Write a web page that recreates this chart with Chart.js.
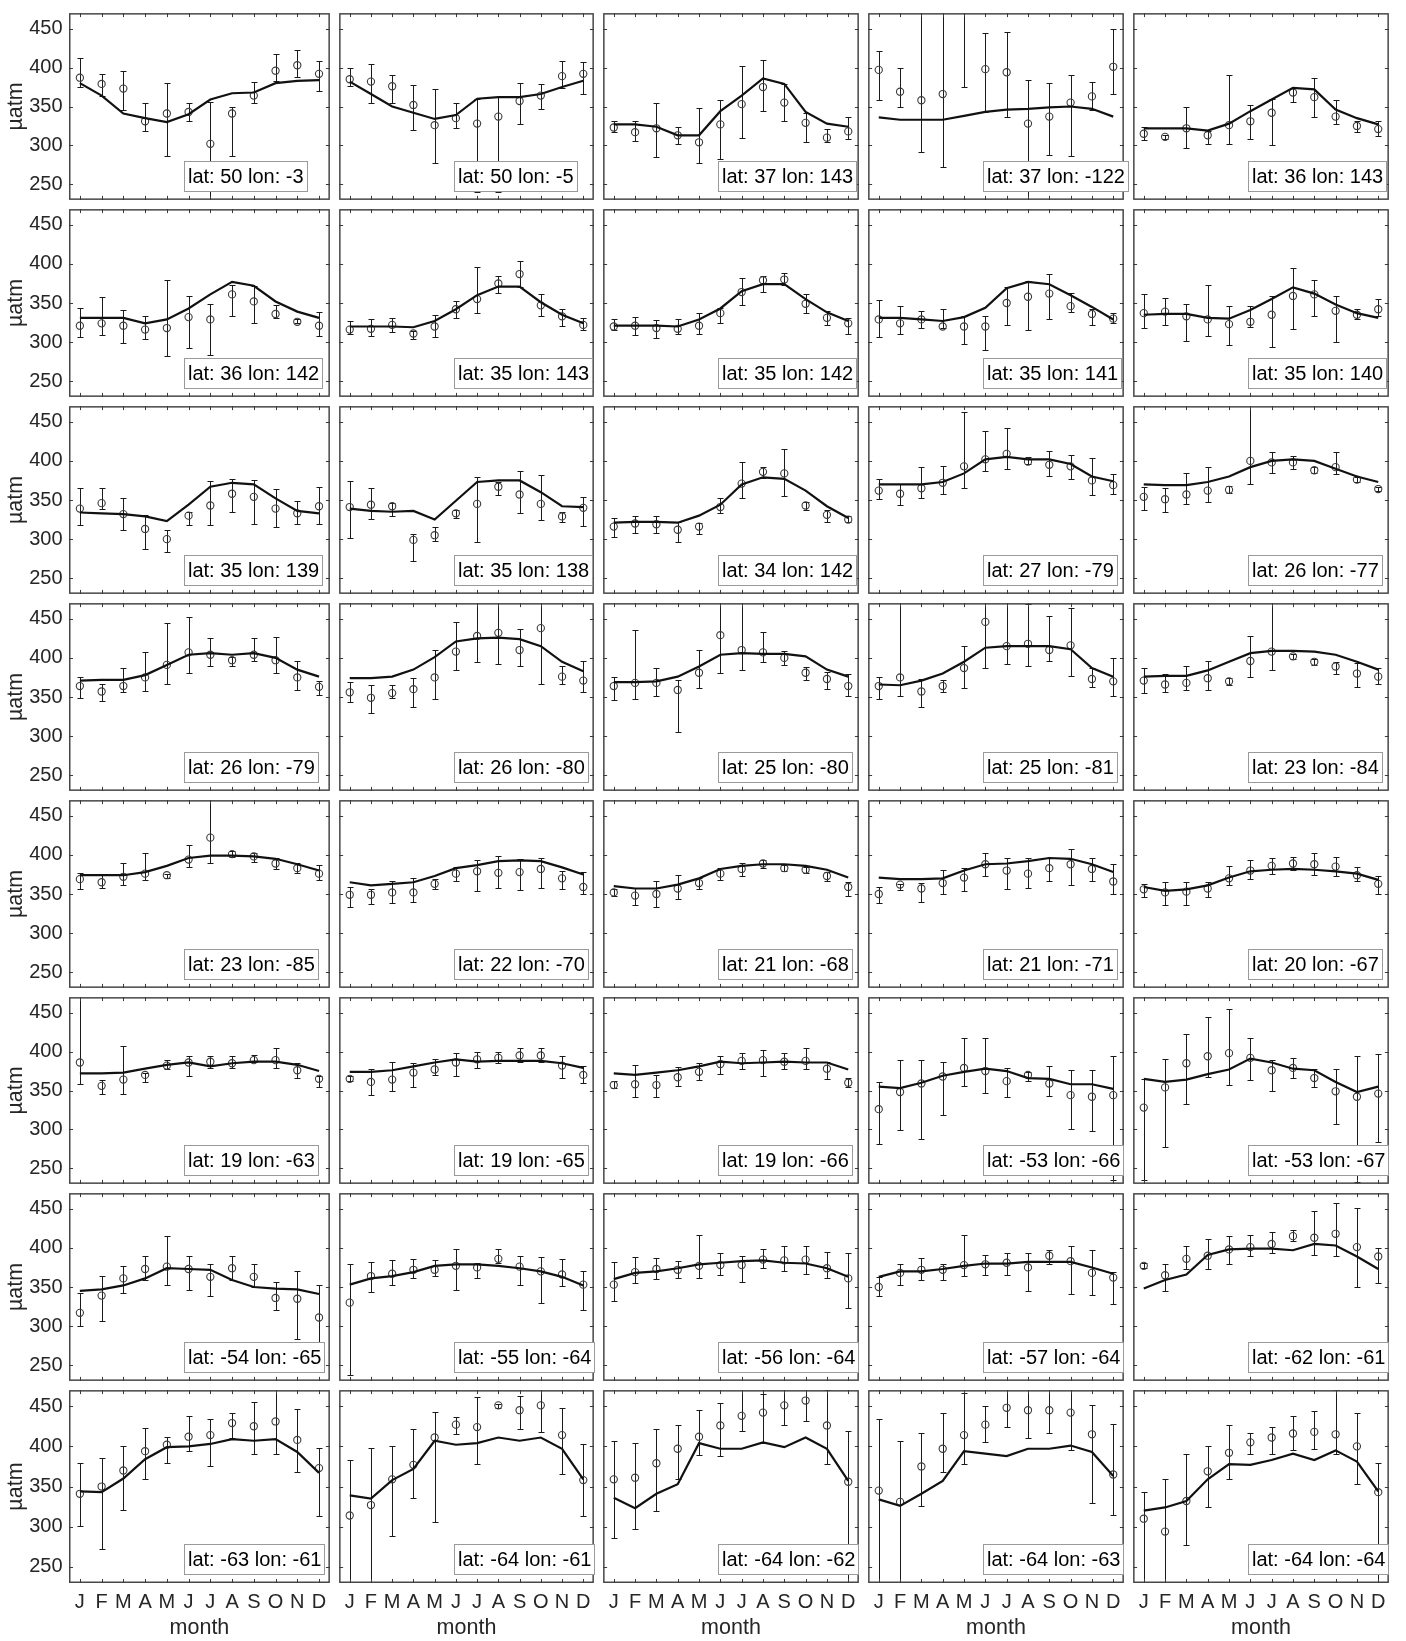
<!DOCTYPE html>
<html>
<head>
<meta charset="utf-8">
<script src="https://cdn.jsdelivr.net/npm/chart.js@4.4.1/dist/chart.umd.min.js"></script>
<style>
  html, body { margin: 0; padding: 0; background: #fff; }
  #wrap { position: relative; width: 1406px; height: 1641px; overflow: hidden; background: #fff; }
  #wrap canvas { position: absolute; }
</style>
</head>
<body>
<div id="wrap"></div>
<script>
// month ticks and y ticks shared by every panel
const months = ["J", "F", "M", "A", "M", "J", "J", "A", "S", "O", "N", "D"];
const yTicks = [250, 300, 350, 400, 450];

// station of each panel, row by row
const lats = [50, 50, 37, 37, 36,  36, 35, 35, 35, 35,  35, 35, 34, 27, 26,  26, 26, 25, 25, 23,
              23, 22, 21, 21, 20,  19, 19, 19, -53, -53,  -54, -55, -56, -57, -62,  -63, -64, -64, -64, -64];
const lons = [-3, -5, 143, -122, 143,  142, 143, 142, 141, 140,  139, 138, 142, -79, -77,  -79, -80, -80, -81, -84,
              -85, -70, -68, -71, -67,  -63, -65, -66, -66, -67,  -65, -64, -64, -64, -61,  -61, -61, -62, -63, -64];

// model pCO2 (line), J..D
const model = [
  [380, 364, 341, 335, 330, 340, 359, 367, 368, 380, 383, 384],
  [382, 366, 350, 342, 334, 339, 360, 362, 362, 366, 375, 383],
  [327, 327, 324, 313, 313, 344, 364, 386, 379, 343, 328, 324],
  [336, 333, 333, 333, 338, 343, 346, 347, 349, 350, 347, 337],
  [322, 322, 322, 319, 328, 344, 359, 374, 372, 346, 335, 327],
  [331, 331, 331, 324, 329, 343, 361, 377, 372, 352, 339, 331],
  [320, 320, 320, 319, 327, 342, 360, 371, 371, 351, 335, 324],
  [321, 321, 321, 320, 329, 343, 365, 374, 374, 355, 338, 327],
  [331, 331, 329, 327, 332, 344, 369, 377, 374, 360, 345, 329],
  [335, 336, 336, 331, 330, 341, 355, 370, 362, 348, 337, 331],
  [334, 333, 332, 329, 323, 344, 367, 372, 370, 352, 336, 333],
  [339, 336, 335, 336, 325, 349, 373, 375, 375, 360, 342, 341],
  [321, 322, 322, 321, 330, 344, 370, 379, 377, 362, 342, 327],
  [370, 370, 370, 373, 384, 402, 405, 402, 402, 396, 380, 374],
  [370, 369, 369, 373, 380, 392, 400, 402, 400, 390, 380, 373],
  [371, 372, 372, 378, 391, 404, 406, 404, 406, 400, 385, 376],
  [374, 374, 376, 385, 401, 421, 425, 426, 424, 415, 395, 383],
  [369, 369, 370, 376, 389, 404, 406, 405, 405, 402, 385, 376],
  [366, 365, 371, 380, 395, 413, 415, 415, 415, 411, 387, 376],
  [376, 377, 377, 384, 395, 406, 409, 409, 408, 404, 395, 385],
  [374, 374, 374, 378, 386, 396, 399, 399, 398, 395, 388, 380],
  [365, 361, 363, 365, 373, 383, 387, 392, 393, 392, 384, 375],
  [360, 357, 357, 362, 370, 382, 386, 388, 388, 386, 381, 371],
  [371, 369, 369, 370, 380, 388, 389, 392, 396, 395, 388, 378],
  [359, 354, 356, 361, 371, 379, 381, 382, 381, 379, 376, 368],
  [372, 372, 373, 378, 383, 386, 381, 385, 387, 387, 383, 375],
  [374, 374, 376, 381, 386, 390, 387, 388, 388, 388, 385, 379],
  [372, 370, 373, 376, 381, 387, 385, 386, 387, 386, 386, 377],
  [355, 353, 360, 369, 374, 378, 375, 366, 365, 358, 358, 352],
  [365, 361, 364, 371, 377, 391, 386, 378, 376, 361, 348, 355],
  [345, 347, 352, 361, 374, 373, 372, 359, 350, 348, 347, 341],
  [353, 361, 364, 369, 377, 379, 379, 377, 374, 370, 363, 352],
  [360, 368, 370, 374, 379, 381, 383, 384, 381, 380, 374, 363],
  [363, 370, 370, 373, 377, 380, 380, 382, 382, 382, 375, 367],
  [348, 359, 366, 391, 398, 399, 399, 397, 405, 403, 389, 373],
  [344, 343, 360, 384, 399, 400, 403, 409, 407, 409, 393, 367],
  [339, 335, 358, 372, 407, 402, 404, 411, 407, 411, 397, 359],
  [336, 323, 341, 353, 404, 397, 397, 405, 399, 411, 397, 357],
  [334, 326, 341, 357, 394, 391, 388, 397, 397, 401, 393, 363],
  [320, 324, 332, 359, 378, 377, 383, 391, 383, 395, 381, 344]
];

// observed monthly values (circles)
const obs = [
  [387, 379, 373, 331, 341, 343, 302, 341, 364, 396, 403, 392],
  [385, 382, 376, 352, 326, 335, 328, 337, 357, 364, 389, 392],
  [323, 317, 322, 313, 304, 327, 353, 375, 355, 329, 310, 318],
  [397, 369, 358, 366, 480, 398, 394, 328, 337, 355, 363, 401],
  [315, 311, 322, 313, 326, 331, 342, 368, 362, 337, 325, 321],
  [321, 324, 321, 316, 318, 332, 329, 361, 352, 336, 326, 321],
  [316, 317, 322, 311, 320, 342, 355, 375, 387, 347, 333, 322],
  [320, 321, 318, 317, 321, 337, 364, 379, 380, 349, 331, 324],
  [329, 324, 329, 320, 320, 320, 350, 358, 362, 346, 336, 330],
  [337, 339, 333, 329, 323, 326, 335, 359, 361, 340, 335, 342],
  [339, 346, 332, 313, 300, 330, 343, 358, 354, 339, 333, 342],
  [341, 344, 342, 299, 305, 333, 345, 367, 357, 345, 329, 340],
  [316, 320, 319, 312, 316, 341, 371, 386, 384, 343, 331, 325],
  [362, 358, 365, 372, 393, 402, 409, 399, 395, 393, 375, 369],
  [354, 351, 357, 362, 363, 400, 398, 398, 388, 392, 376, 364],
  [364, 357, 364, 375, 391, 407, 404, 397, 404, 397, 375, 363],
  [356, 349, 355, 360, 375, 408, 428, 432, 410, 438, 376, 371],
  [364, 368, 368, 359, 381, 429, 410, 407, 400, 381, 373, 364],
  [364, 375, 357, 364, 387, 446, 415, 418, 410, 416, 373, 370],
  [371, 366, 368, 374, 370, 396, 408, 402, 395, 389, 380, 376],
  [369, 365, 372, 376, 374, 394, 422, 401, 398, 389, 383, 376],
  [349, 349, 352, 352, 363, 376, 379, 377, 378, 382, 370, 359],
  [352, 348, 350, 357, 364, 376, 382, 389, 383, 381, 373, 359],
  [350, 362, 357, 364, 371, 388, 380, 376, 383, 388, 382, 366],
  [356, 352, 353, 357, 370, 380, 386, 389, 388, 385, 374, 363],
  [386, 356, 364, 370, 382, 386, 387, 385, 389, 389, 376, 365],
  [365, 361, 364, 373, 377, 386, 390, 392, 395, 395, 382, 370],
  [357, 358, 357, 367, 374, 384, 388, 389, 387, 388, 378, 360],
  [326, 348, 359, 368, 379, 375, 362, 370, 359, 344, 342, 344],
  [328, 354, 385, 394, 398, 392, 376, 379, 366, 349, 342, 346],
  [317, 339, 361, 373, 376, 373, 363, 374, 363, 336, 335, 311],
  [330, 364, 367, 372, 372, 377, 375, 386, 376, 370, 366, 353],
  [353, 369, 373, 372, 377, 378, 378, 385, 384, 385, 374, 361],
  [350, 368, 372, 372, 378, 379, 381, 375, 390, 383, 368, 362],
  [377, 365, 386, 390, 398, 401, 405, 415, 413, 418, 401, 389],
  [341, 350, 370, 394, 402, 412, 414, 429, 425, 431, 408, 373],
  [314, 327, 359, 377, 411, 427, 424, 451, 445, 451, 414, 358],
  [359, 361, 379, 397, 412, 426, 438, 442, 451, 457, 426, 356],
  [345, 331, 375, 397, 414, 427, 448, 445, 445, 442, 415, 365],
  [310, 294, 332, 369, 392, 405, 411, 416, 418, 415, 400, 343]
];

// lower end of each error bar
const errLo = [
  [375, 364, 345, 318, 287, 331, 225, 286, 354, 383, 388, 370],
  [376, 355, 355, 320, 277, 322, 240, 240, 328, 347, 374, 366],
  [317, 306, 285, 302, 278, 282, 310, 344, 332, 304, 304, 308],
  [358, 350, 292, 272, 375, 343, 336, 225, 288, 286, 345, 366],
  [307, 308, 297, 302, 302, 308, 301, 356, 337, 327, 317, 312],
  [306, 309, 299, 304, 282, 292, 284, 334, 324, 331, 324, 308],
  [311, 308, 313, 304, 307, 331, 337, 363, 371, 333, 321, 315],
  [315, 309, 305, 311, 311, 325, 347, 364, 373, 337, 322, 310],
  [307, 310, 318, 318, 298, 290, 322, 315, 329, 338, 322, 325],
  [318, 322, 302, 308, 296, 319, 294, 317, 333, 300, 329, 333],
  [318, 339, 312, 287, 283, 318, 318, 335, 319, 315, 319, 319],
  [301, 326, 329, 272, 298, 327, 296, 357, 333, 325, 322, 317],
  [303, 308, 308, 296, 306, 333, 353, 378, 355, 337, 322, 322],
  [351, 344, 352, 358, 365, 387, 390, 396, 381, 377, 357, 358],
  [337, 335, 345, 347, 359, 371, 384, 390, 384, 383, 373, 361],
  [349, 345, 356, 358, 366, 381, 389, 389, 396, 381, 359, 352],
  [344, 329, 349, 337, 348, 385, 395, 392, 389, 367, 366, 356],
  [346, 348, 351, 305, 361, 381, 385, 395, 391, 372, 360, 351],
  [348, 351, 337, 357, 362, 387, 392, 389, 396, 377, 363, 351],
  [355, 356, 359, 359, 365, 376, 385, 399, 391, 380, 363, 366],
  [356, 358, 361, 368, 371, 384, 390, 397, 391, 382, 377, 368],
  [334, 337, 339, 340, 357, 367, 354, 358, 355, 358, 356, 350],
  [348, 336, 333, 344, 357, 368, 373, 383, 379, 377, 366, 348],
  [339, 355, 340, 350, 354, 373, 356, 358, 367, 361, 367, 350],
  [346, 336, 336, 346, 361, 369, 376, 381, 374, 373, 367, 350],
  [358, 345, 345, 361, 377, 368, 379, 379, 386, 379, 366, 355],
  [362, 344, 349, 354, 370, 369, 379, 385, 387, 386, 366, 360],
  [353, 342, 342, 356, 363, 371, 377, 368, 377, 377, 365, 354],
  [281, 299, 288, 319, 356, 347, 342, 362, 343, 300, 298, 235],
  [235, 278, 333, 367, 357, 364, 350, 366, 354, 307, 233, 284],
  [300, 307, 342, 359, 353, 346, 338, 359, 350, 320, 283, 271],
  [237, 344, 353, 361, 364, 346, 362, 381, 352, 330, 351, 320],
  [332, 355, 360, 361, 361, 365, 357, 374, 371, 367, 362, 323],
  [339, 353, 359, 359, 364, 365, 365, 345, 380, 341, 340, 328],
  [374, 345, 373, 373, 380, 389, 394, 409, 391, 390, 350, 355],
  [301, 272, 321, 360, 379, 394, 376, 410, 391, 390, 368, 313],
  [225, 225, 289, 336, 306, 416, 378, 448, 422, 418, 365, 313],
  [286, 297, 319, 360, 389, 388, 419, 404, 427, 431, 378, 225],
  [225, 225, 326, 368, 378, 405, 424, 411, 417, 396, 330, 315],
  [225, 225, 277, 325, 360, 391, 390, 396, 397, 391, 353, 225]
];

// upper end of each error bar
const errHi = [
  [412, 392, 396, 355, 380, 355, 356, 349, 381, 418, 422, 408],
  [400, 405, 391, 377, 372, 355, 360, 362, 380, 379, 408, 407],
  [331, 331, 354, 324, 348, 358, 402, 410, 379, 342, 321, 337],
  [421, 399, 480, 480, 480, 445, 446, 384, 380, 390, 382, 450],
  [324, 313, 350, 319, 391, 352, 360, 374, 386, 358, 331, 332],
  [343, 358, 341, 333, 379, 359, 349, 373, 372, 348, 329, 339],
  [327, 330, 331, 314, 335, 352, 396, 385, 404, 361, 342, 331],
  [329, 332, 328, 329, 337, 344, 382, 384, 388, 362, 340, 331],
  [354, 346, 340, 342, 334, 334, 370, 378, 387, 363, 342, 337],
  [362, 356, 349, 373, 346, 346, 359, 395, 380, 359, 342, 355],
  [365, 365, 352, 331, 312, 335, 374, 377, 375, 364, 349, 367],
  [374, 365, 346, 306, 316, 337, 380, 373, 387, 382, 335, 354],
  [327, 330, 329, 322, 321, 352, 398, 392, 415, 348, 337, 329],
  [377, 371, 392, 394, 462, 438, 442, 405, 413, 408, 404, 383],
  [366, 365, 384, 392, 368, 480, 411, 406, 392, 411, 380, 367],
  [375, 367, 387, 407, 445, 452, 426, 401, 426, 427, 396, 370],
  [369, 365, 365, 374, 410, 446, 480, 480, 437, 480, 389, 396],
  [376, 436, 387, 372, 410, 480, 480, 433, 409, 388, 382, 379],
  [376, 480, 373, 372, 415, 480, 480, 469, 453, 464, 387, 400],
  [387, 380, 389, 396, 374, 428, 480, 405, 398, 395, 393, 387],
  [377, 374, 390, 402, 376, 413, 480, 405, 403, 396, 389, 387],
  [359, 356, 366, 370, 369, 384, 394, 398, 395, 396, 379, 378],
  [356, 358, 367, 374, 370, 383, 389, 393, 387, 384, 378, 365],
  [359, 363, 364, 381, 383, 402, 396, 396, 396, 407, 396, 388],
  [363, 365, 365, 365, 386, 394, 396, 397, 402, 397, 384, 373],
  [480, 364, 407, 373, 389, 394, 394, 394, 396, 404, 385, 368],
  [369, 377, 386, 385, 390, 398, 400, 399, 404, 404, 394, 381],
  [362, 383, 370, 380, 385, 394, 398, 402, 398, 404, 387, 366],
  [361, 389, 389, 386, 417, 417, 379, 374, 381, 376, 376, 394],
  [365, 391, 423, 445, 455, 417, 389, 392, 377, 377, 394, 397],
  [342, 364, 377, 389, 415, 389, 379, 389, 379, 357, 370, 352],
  [379, 382, 384, 386, 384, 399, 381, 399, 390, 388, 386, 371],
  [382, 388, 387, 383, 416, 393, 390, 398, 402, 402, 395, 394],
  [363, 380, 387, 380, 416, 391, 393, 394, 397, 402, 397, 369],
  [381, 380, 402, 411, 415, 416, 420, 423, 447, 457, 451, 400],
  [379, 385, 400, 423, 412, 438, 434, 441, 455, 480, 446, 398],
  [383, 398, 400, 422, 443, 437, 462, 453, 463, 480, 448, 403],
  [407, 404, 421, 427, 445, 454, 480, 465, 480, 480, 470, 419],
  [434, 407, 417, 441, 467, 450, 480, 480, 480, 480, 452, 428],
  [343, 360, 390, 401, 426, 417, 424, 438, 444, 470, 442, 379]
];

const NCOL = 5, NROW = 8;
const X0 = 69, COLW = 264.7, Y0 = 7.5, ROWH = 196.8;
const PAGE_H = 1641;
const FONT = '"Liberation Sans", Arial, Helvetica, sans-serif';
const TICK_COLOR = "#262626";

const xEdge = (c) => Math.round(X0 + c * COLW);
const yEdge = (r) => Math.round(Y0 + r * ROWH);

// frame, inner tick marks, error bars and the station label
const panelDecor = {
  id: "panelDecor",
  beforeDatasetsDraw(chart) {
    const i = chart.options.plugins.panelDecor.index;
    const { ctx, chartArea: a, scales: { x, y } } = chart;
    ctx.save();
    ctx.beginPath();
    ctx.rect(a.left, a.top, a.right - a.left, a.bottom - a.top);
    ctx.clip();
    ctx.strokeStyle = "#1a1a1a";
    ctx.lineWidth = 1;
    ctx.beginPath();
    errLo[i].forEach((lo, k) => {
      const px = Math.round(x.getPixelForValue(k + 1)) + 0.5;
      const y1 = Math.round(y.getPixelForValue(lo)) + 0.5;
      const y2 = Math.round(y.getPixelForValue(errHi[i][k])) + 0.5;
      ctx.moveTo(px, y1); ctx.lineTo(px, y2);
      ctx.moveTo(px - 3, y1); ctx.lineTo(px + 3, y1);
      ctx.moveTo(px - 3, y2); ctx.lineTo(px + 3, y2);
    });
    ctx.stroke();
    ctx.restore();
  },
  afterDraw(chart) {
    const i = chart.options.plugins.panelDecor.index;
    const { ctx, chartArea: a, scales: { x, y } } = chart;
    ctx.save();
    ctx.strokeStyle = "#474747";
    ctx.lineWidth = 1.5;
    ctx.strokeRect(a.left + 0.75, a.top + 0.75, a.right - a.left - 1.5, a.bottom - a.top - 1.5);
    ctx.lineWidth = 1;
    ctx.strokeStyle = "#3a3a3a";
    ctx.beginPath();
    months.forEach((m, k) => {
      const px = Math.round(x.getPixelForValue(k + 1)) + 0.5;
      ctx.moveTo(px, a.top); ctx.lineTo(px, a.top + 4);
      ctx.moveTo(px, a.bottom); ctx.lineTo(px, a.bottom - 4);
    });
    yTicks.forEach((v) => {
      const py = Math.round(y.getPixelForValue(v)) + 0.5;
      ctx.moveTo(a.left, py); ctx.lineTo(a.left + 4, py);
      ctx.moveTo(a.right, py); ctx.lineTo(a.right - 4, py);
    });
    ctx.stroke();

    const text = "lat: " + lats[i] + " lon: " + lons[i];
    ctx.font = "20px " + FONT;
    const w = Math.round(ctx.measureText(text).width + 7);
    const bx = Math.round(a.left + 115) + 0.5;
    const by = Math.round(a.bottom - 39) + 0.5;
    ctx.fillStyle = "#fff";
    ctx.fillRect(bx, by, w, 30);
    ctx.strokeStyle = "#9a9a9a";
    ctx.strokeRect(bx, by, w, 30);
    ctx.fillStyle = "#000";
    ctx.textAlign = "left";
    ctx.textBaseline = "middle";
    ctx.fillText(text, bx + 3.5, by + 16);
    ctx.restore();
  }
};

function makePanel(r, c) {
  const i = r * NCOL + c;
  const showY = c === 0, showX = r === NROW - 1;
  const left = showY ? 0 : xEdge(c);
  const width = xEdge(c + 1) + 1 - left;
  const top = yEdge(r);
  const plotBottom = yEdge(r + 1) + 1;
  const height = (showX ? PAGE_H : plotBottom) - top;
  const xAxisH = PAGE_H - (yEdge(NROW) + 1);

  const canvas = document.createElement("canvas");
  canvas.width = width;
  canvas.height = height;
  canvas.style.left = left + "px";
  canvas.style.top = top + "px";
  canvas.style.width = width + "px";
  canvas.style.height = height + "px";
  document.getElementById("wrap").appendChild(canvas);

  return new Chart(canvas.getContext("2d"), {
    type: "line",
    data: {
      datasets: [
        {
          type: "line",
          data: model[i].map((v, k) => ({ x: k + 1, y: v })),
          borderColor: "#111",
          borderWidth: 2.2,
          pointRadius: 0,
          tension: 0,
          fill: false,
          clip: 0,
        },
        {
          type: "scatter",
          data: obs[i].map((v, k) => ({ x: k + 1, y: v })),
          pointStyle: "circle",
          pointRadius: 3.6,
          borderWidth: 1.1,
          borderColor: "#3c3c3c",
          backgroundColor: "rgba(0,0,0,0)",
          showLine: false,
          clip: 0,
        },
      ],
    },
    options: {
      responsive: false,
      maintainAspectRatio: false,
      animation: false,
      devicePixelRatio: 1,
      events: [],
      layout: { padding: 0 },
      plugins: {
        legend: { display: false },
        tooltip: { enabled: false },
        panelDecor: { index: i },
      },
      scales: {
        x: {
          type: "linear",
          min: 0.5,
          max: 12.5,
          display: showX,
          afterBuildTicks: (s) => { s.ticks = months.map((m, k) => ({ value: k + 1 })); },
          afterFit: (s) => {
            if (!showX) return;
            s.height = xAxisH; s.paddingLeft = 0; s.paddingRight = 0;
          },
          grid: { display: false, drawTicks: false },
          border: { display: false },
          ticks: {
            autoSkip: false,
            maxRotation: 0,
            minRotation: 0,
            padding: 7,
            color: TICK_COLOR,
            font: { family: FONT, size: 20 },
            callback: (v) => months[Math.round(v) - 1],
          },
          title: {
            display: true,
            text: "month",
            color: TICK_COLOR,
            font: { family: FONT, size: 21.5 },
            padding: { top: 0, bottom: 0 },
          },
        },
        y: {
          type: "linear",
          min: 230,
          max: 470,
          display: showY,
          afterBuildTicks: (s) => { s.ticks = yTicks.map((v) => ({ value: v })); },
          afterFit: (s) => {
            if (!showY) return;
            s.width = X0; s.paddingTop = 0; s.paddingBottom = 0;
          },
          grid: { display: false, drawTicks: false },
          border: { display: false },
          ticks: {
            padding: 6.5,
            color: TICK_COLOR,
            font: { family: FONT, size: 20 },
          },
          title: {
            display: true,
            text: "µatm",
            color: TICK_COLOR,
            font: { family: FONT, size: 21.5 },
            padding: { top: 3, bottom: 0 },
          },
        },
      },
    },
    plugins: [panelDecor],
  });
}

for (let r = 0; r < NROW; r++) {
  for (let c = 0; c < NCOL; c++) makePanel(r, c);
}
</script>
</body>
</html>
